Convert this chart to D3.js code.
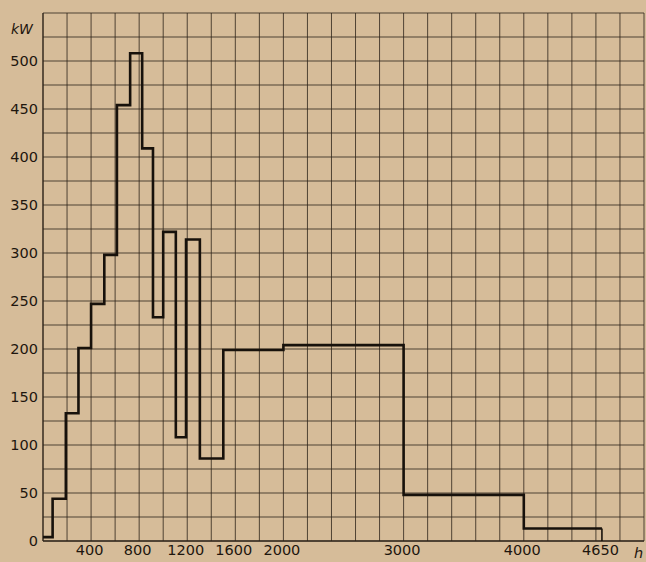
<!DOCTYPE html>
<html>
<head>
<meta charset="utf-8">
<script src="https://cdn.jsdelivr.net/npm/d3@7"></script>
<style>
  body { margin: 0; background: #d6bc99; }
  svg { display: block; }
  .tick-label { font-family: "DejaVu Sans", sans-serif; font-size: 14.5px; fill: #1e160e; }
</style>
</head>
<body>
<div id="chart"></div>
<script>
// Step load curve: start hour of each step and its load in kW
const stepStartH = [0, 80, 190, 295, 400, 510, 615, 725, 825, 915, 1000, 1105, 1190, 1305, 1500, 2000, 3000, 4000];
const stepLoadKW = [4, 44, 133, 201, 247, 298, 454, 508, 409, 233, 322, 108, 314, 86, 199, 204, 48, 13];
const lastHour = 4650;

const xTickLabels = [400, 800, 1200, 1600, 2000, 3000, 4000, 4650];
const yTickLabels = [0, 50, 100, 150, 200, 250, 300, 350, 400, 450, 500];

const drawChart = () => {

  /* sizes */
  const margin = {top: 13, right: 2, bottom: 21, left: 43};
  const width = 646;
  const height = 562;
  const innerWidth = width - margin.left - margin.right;
  const innerHeight = height - margin.top - margin.bottom;

  const svg = d3.select("#chart")
    .append("svg")
      .attr("width", width)
      .attr("height", height);

  const innerChart = svg.append("g")
    .attr("transform", `translate(${margin.left}, ${margin.top})`);

  /* scales */
  const xScale = d3.scaleLinear()
    .domain([0, 5000])
    .range([0, innerWidth]);
  const yScale = d3.scaleLinear()
    .domain([0, 550])
    .range([innerHeight, 0]);

  /* grid: every 200 h and every 25 kW */
  const gridColour = "#2e241a";
  innerChart.append("g")
    .selectAll("line")
    .data(d3.range(0, 5001, 200))
    .join("line")
      .attr("x1", d => xScale(d))
      .attr("x2", d => xScale(d))
      .attr("y1", 0)
      .attr("y2", innerHeight)
      .attr("stroke", gridColour)
      .attr("stroke-width", d => d === 0 ? 1.8 : 1)
      .attr("stroke-opacity", 0.8);
  innerChart.append("g")
    .selectAll("line")
    .data(d3.range(0, 551, 25))
    .join("line")
      .attr("x1", 0)
      .attr("x2", innerWidth)
      .attr("y1", d => yScale(d))
      .attr("y2", d => yScale(d))
      .attr("stroke", gridColour)
      .attr("stroke-width", d => d === 0 ? 1.8 : 1)
      .attr("stroke-opacity", 0.8);

  /* axes labels */
  const bottomAxis = d3.axisBottom(xScale)
    .tickValues(xTickLabels)
    .tickFormat(d3.format("d"))
    .tickSize(0)
    .tickPadding(4);
  const xAxis = innerChart.append("g")
    .attr("transform", `translate(0, ${innerHeight})`)
    .call(bottomAxis);
  xAxis.select(".domain").remove();
  xAxis.selectAll("text")
    .attr("class", "tick-label")
    .attr("fill", null)
    .attr("dx", "-2px");

  const leftAxis = d3.axisLeft(yScale)
    .tickValues(yTickLabels)
    .tickSize(0)
    .tickPadding(5);
  const yAxis = innerChart.append("g").call(leftAxis);
  yAxis.select(".domain").remove();
  yAxis.selectAll("text")
    .attr("class", "tick-label")
    .attr("fill", null)
    .attr("dy", "0.3em");
  svg.selectAll(".tick-label").attr("font-size", null).attr("font-family", null);

  // unit labels
  svg.append("text")
    .attr("x", 11)
    .attr("y", 34)
    .attr("class", "tick-label")
    .style("font-style", "italic")
    .style("font-size", "14px")
    .text("kW");
  svg.append("text")
    .attr("x", 634)
    .attr("y", 558)
    .attr("class", "tick-label")
    .style("font-style", "italic")
    .text("h");

  /* load curve */
  const points = stepStartH.map((h, i) => [h, stepLoadKW[i]]);
  points.push([lastHour, stepLoadKW[stepLoadKW.length - 1]]);

  const stepLine = d3.line()
    .x(d => xScale(d[0]))
    .y(d => yScale(d[1]))
    .curve(d3.curveStepAfter);

  innerChart.append("path")
    .attr("d", stepLine(points))
    .attr("fill", "none")
    .attr("stroke", "#17110b")
    .attr("stroke-width", 2.6)
    .attr("stroke-linejoin", "miter");

  // closing drop at the end of the last step
  innerChart.append("line")
    .attr("x1", xScale(lastHour))
    .attr("x2", xScale(lastHour))
    .attr("y1", yScale(stepLoadKW[stepLoadKW.length - 1]))
    .attr("y2", yScale(0))
    .attr("stroke", "#17110b")
    .attr("stroke-width", 1.6);
};

drawChart();
</script>
</body>
</html>
